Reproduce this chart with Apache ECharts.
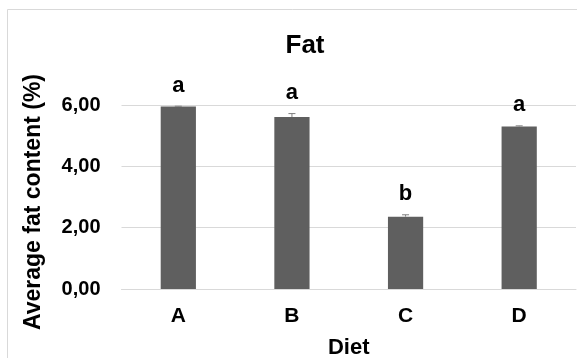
<!DOCTYPE html>
<html>
<head>
<meta charset="utf-8">
<script src="https://cdn.jsdelivr.net/npm/echarts@6/dist/echarts.min.js"></script>
<style>
  html, body { margin: 0; padding: 0; background: #ffffff; }
  #chart { width: 577px; height: 358px; }
</style>
</head>
<body>
<div id="chart"></div>
<script>
// Diet groups and their mean fat content
const categories = ['A', 'B', 'C', 'D'];
const meanFat = [5.95, 5.61, 2.36, 5.30];
const errorFat = [0.01, 0.11, 0.06, 0.02];
const groupLetters = ['a', 'a', 'b', 'a'];
const yTicks = [0, 2, 4, 6];

const FONT = '"Liberation Sans", Arial, sans-serif';
const chart = echarts.init(document.getElementById('chart'), null, { renderer: 'canvas' });

const errorData = categories.map((c, i) => [i, meanFat[i], errorFat[i], groupLetters[i]]);

chart.setOption({
  animation: false,
  backgroundColor: '#ffffff',
  graphic: [{
    type: 'rect',
    shape: { x: 7.5, y: 9.5, width: 640, height: 420 },
    style: { fill: 'none', stroke: '#d9d9d9', lineWidth: 1 },
    silent: true,
    z: -1
  }],
  title: {
    text: 'Fat',
    left: 300,
    top: 28,
    textAlign: 'center',
    textStyle: { fontFamily: FONT, fontSize: 26, fontWeight: 'bold', color: '#000000' }
  },
  grid: { left: 121.5, right: 1, top: 105, bottom: 69, containLabel: false, outerBoundsMode: 'none' },
  xAxis: {
    type: 'category',
    data: categories,
    name: 'Diet',
    nameLocation: 'middle',
    nameGap: 48,
    nameTextStyle: { fontFamily: FONT, fontSize: 22, fontWeight: 'bold', color: '#000000' },
    axisLine: { show: true, lineStyle: { color: '#d9d9d9', width: 1 } },
    axisTick: { show: false },
    axisLabel: { fontFamily: FONT, fontSize: 21, fontWeight: 'bold', color: '#000000', margin: 17 }
  },
  yAxis: {
    type: 'value',
    min: yTicks[0],
    max: yTicks[yTicks.length - 1],
    interval: 2,
    name: 'Average fat content (%)',
    nameLocation: 'middle',
    nameGap: 76,
    nameTextStyle: {
      fontFamily: FONT, fontSize: 23, fontWeight: 'bold', color: '#000000',
      padding: [0, 10, 0, 0]
    },
    axisLine: { show: false },
    axisTick: { show: false },
    splitLine: { lineStyle: { color: '#d9d9d9', width: 1 } },
    axisLabel: {
      fontFamily: FONT, fontSize: 20, fontWeight: 'bold', color: '#000000', margin: 21,
      formatter: v => v.toFixed(2).replace('.', ',')
    }
  },
  series: [
    {
      type: 'bar',
      data: meanFat,
      barWidth: '31%',
      itemStyle: { color: '#5f5f5f' },
      z: 2
    },
    {
      type: 'custom',
      data: errorData,
      z: 3,
      renderItem: function (params, api) {
        const idx = api.value(0);
        const mean = api.value(1);
        const err = api.value(2);
        const top = api.coord([idx, mean + err]);
        const base = api.coord([idx, mean]);
        const capHalf = 3.5;
        return {
          type: 'group',
          children: [
            { type: 'line', shape: { x1: top[0], y1: top[1], x2: base[0], y2: base[1] },
              style: { stroke: '#7f7f7f', lineWidth: 1 } },
            { type: 'line', shape: { x1: top[0] - capHalf, y1: top[1], x2: top[0] + capHalf, y2: top[1] },
              style: { stroke: '#7f7f7f', lineWidth: 1 } },
            { type: 'text',
              style: {
                text: api.value(3), x: top[0], y: top[1] - 20.5,
                align: 'center', verticalAlign: 'middle',
                font: 'bold 22px ' + FONT, fill: '#000000'
              } }
          ]
        };
      }
    }
  ]
});
</script>
</body>
</html>
